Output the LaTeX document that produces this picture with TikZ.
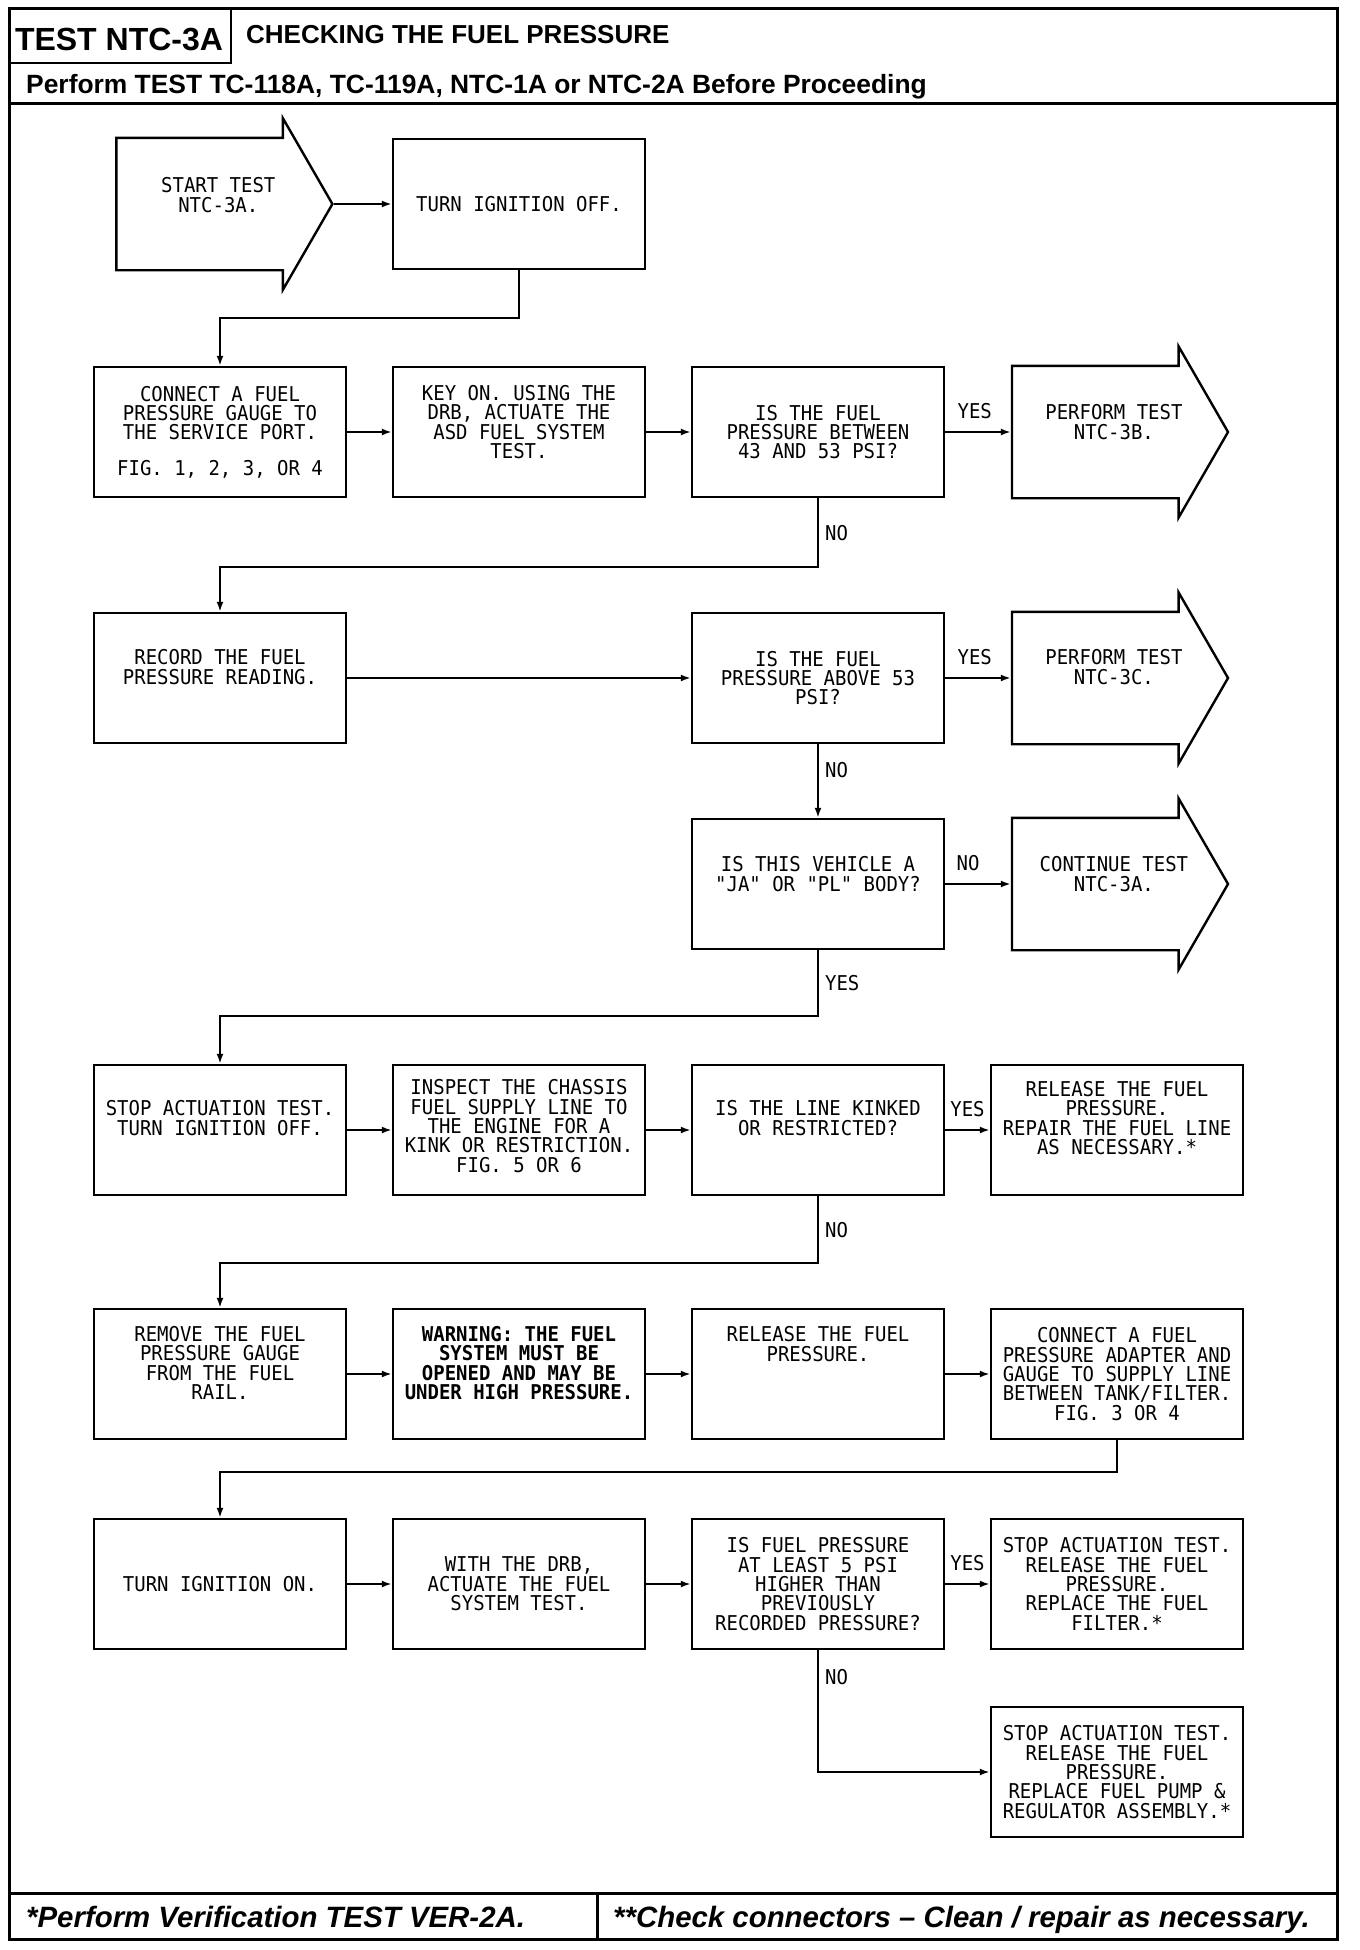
\documentclass[tikz,border=0pt]{standalone}
\usepackage{fontspec}
\setmainfont{Liberation Sans}
\newfontfamily\plotfont[FakeStretch=0.93]{DejaVu Sans Mono}
\usetikzlibrary{arrows.meta,positioning,shapes.arrows}

\begin{document}
\begin{tikzpicture}[node distance=22.3pt, line width=1.2pt,
  font=\plotfont\fontsize{10.2}{9.7}\selectfont,
  box/.style={draw, align=center, minimum width=126pt, minimum height=65pt, inner sep=0pt},
  goto/.style={draw, single arrow, single arrow head extend=9.75pt, single arrow tip angle=120,
    minimum width=84.5pt, minimum height=108pt, text height=32.5pt, text depth=32.5pt, inner sep=0pt},
  txt/.style={align=center, inner sep=0pt},
  lifted/.style 2 args={label={[txt, yshift=#1]center:{#2}}},
  gototext/.style 2 args={label={[txt, xshift=6.5pt, yshift=#1]center:{#2}}},
  arr/.style={-{Latex[length=5pt,width=3.5pt]}, line width=1.1pt},
  lbl/.style={inner sep=3pt}]

\useasboundingbox (0,0) rectangle (680pt,-975pt);

% frame and headings
\draw[line width=1.5pt] (4.5pt,-4pt) rectangle (668.5pt,-969.5pt);
\draw (4.5pt,-4pt) rectangle (115.5pt,-31.5pt);
\draw[line width=1.5pt] (4.5pt,-51.5pt) -- (668.5pt,-51.5pt);
\draw[line width=1.5pt] (4.5pt,-946.5pt) -- (668.5pt,-946.5pt);
\draw[line width=1.5pt] (298.5pt,-946.5pt) -- (298.5pt,-969.5pt);

\node (testid) [anchor=base, font=\bfseries\fontsize{16}{16}\selectfont] at (59.5pt,-25pt) {TEST NTC-3A};
\node (heading) [anchor=base west, inner sep=0pt, font=\bfseries\fontsize{13}{13}\selectfont] at (122.5pt,-21.5pt) {CHECKING THE FUEL PRESSURE};
\node (prereq) [anchor=base west, inner sep=0pt, font=\bfseries\fontsize{13.2}{13.2}\selectfont] at (12.5pt,-46.5pt) {Perform TEST TC-118A, TC-119A, NTC-1A or NTC-2A Before Proceeding};
\node (verify) [anchor=base west, inner sep=0pt, font=\bfseries\itshape\fontsize{14.7}{14.7}\selectfont] at (12.5pt,-963.5pt) {*Perform Verification TEST VER-2A.};
\node (clean) [anchor=base west, inner sep=0pt, font=\bfseries\itshape\fontsize{14.7}{14.7}\selectfont] at (306pt,-963.5pt) {**Check connectors -- Clean / repair as necessary.};

% flow
\node (turnoff) [box] at (259.5pt,-102pt) {TURN IGNITION OFF.};
\node (start) [goto, left=29pt of turnoff, gototext={4.5pt}{START TEST\\NTC-3A.}] {};

\node (keyon) [box, below=47.8pt of turnoff, lifted={5pt}{KEY ON. USING THE\\DRB, ACTUATE THE\\ASD FUEL SYSTEM\\TEST.}] {};
\node (connect) [box, left=of keyon] {CONNECT A FUEL\\PRESSURE GAUGE TO\\THE SERVICE PORT.\\[8pt]FIG. 1, 2, 3, OR 4};
\node (between) [box, right=of keyon] {IS THE FUEL\\PRESSURE BETWEEN\\43 AND 53 PSI?};
\node (perf3b) [goto, right=32.8pt of between, gototext={5pt}{PERFORM TEST\\NTC-3B.}] {};

\node (record) [box, below=56.8pt of connect, lifted={5.5pt}{RECORD THE FUEL\\PRESSURE READING.}] {};
\node (above53) [box, below=56.8pt of between] {IS THE FUEL\\PRESSURE ABOVE 53\\PSI?};
\node (perf3c) [goto, right=32.8pt of above53, gototext={5.5pt}{PERFORM TEST\\NTC-3C.}] {};

\node (ja) [box, below=36.8pt of above53, lifted={5pt}{IS THIS VEHICLE A\\"JA" OR "PL" BODY?}] {};
\node (cont3a) [goto, right=32.8pt of ja, gototext={5pt}{CONTINUE TEST\\NTC-3A.}] {};

\node (kinked) [box, below=56.8pt of ja, lifted={6pt}{IS THE LINE KINKED\\OR RESTRICTED?}] {};
\node (inspect) [box, left=of kinked, lifted={2pt}{INSPECT THE CHASSIS\\FUEL SUPPLY LINE TO\\THE ENGINE FOR A\\KINK OR RESTRICTION.\\FIG. 5 OR 6}] {};
\node (stop1) [box, left=of inspect, lifted={6pt}{STOP ACTUATION TEST.\\TURN IGNITION OFF.}] {};
\node (repair) [box, right=of kinked, lifted={6pt}{RELEASE THE FUEL\\PRESSURE.\\REPAIR THE FUEL LINE\\AS NECESSARY.*}] {};

\node (relfuel) [box, below=55.8pt of kinked, lifted={15pt}{RELEASE THE FUEL\\PRESSURE.}] {};
\node (warning) [box, left=of relfuel, label={[txt, yshift=5.5pt, font=\plotfont\bfseries\fontsize{10.2}{9.7}\selectfont]center:{WARNING: THE FUEL\\SYSTEM MUST BE\\OPENED AND MAY BE\\UNDER HIGH PRESSURE.}}] {};
\node (remove) [box, left=of warning, lifted={5.5pt}{REMOVE THE FUEL\\PRESSURE GAUGE\\FROM THE FUEL\\RAIL.}] {};
\node (adapter) [box, right=of relfuel] {CONNECT A FUEL\\PRESSURE ADAPTER AND\\GAUGE TO SUPPLY LINE\\BETWEEN TANK/FILTER.\\FIG. 3 OR 4};

\node (atleast) [box, below=38.8pt of relfuel] {IS FUEL PRESSURE\\AT LEAST 5 PSI\\HIGHER THAN\\PREVIOUSLY\\RECORDED PRESSURE?};
\node (drb) [box, left=of atleast] {WITH THE DRB,\\ACTUATE THE FUEL\\SYSTEM TEST.};
\node (turnon) [box, left=of drb] {TURN IGNITION ON.};
\node (filter) [box, right=of atleast] {STOP ACTUATION TEST.\\RELEASE THE FUEL\\PRESSURE.\\REPLACE THE FUEL\\FILTER.*};
\node (pump) [box, below=27.8pt of filter] {STOP ACTUATION TEST.\\RELEASE THE FUEL\\PRESSURE.\\REPLACE FUEL PUMP \&\\REGULATOR ASSEMBLY.*};

% connectors
\draw[arr] (start) -- (turnoff);
\draw[arr] (turnoff.south) -- ++(0,-24pt) -| (connect.north);
\draw[arr] (connect) -- (keyon);
\draw[arr] (keyon) -- (between);
\draw[arr] (between) -- node[lbl, above=3pt, pos=0.45] {YES} (perf3b);
\draw[arr] (between.south) -- node[lbl, right] {NO} ++(0,-34.5pt) -| (record.north);
\draw[arr] (record) -- (above53);
\draw[arr] (above53) -- node[lbl, above=3pt, pos=0.45] {YES} (perf3c);
\draw[arr] (above53) -- node[lbl, right, pos=0.35] {NO} (ja);
\draw[arr] (ja) -- node[lbl, above=3pt, pos=0.35] {NO} (cont3a);
\draw[arr] (ja.south) -- node[lbl, right] {YES} ++(0,-33pt) -| (stop1.north);
\draw[arr] (stop1) -- (inspect);
\draw[arr] (inspect) -- (kinked);
\draw[arr] (kinked) -- node[lbl, above=3pt] {YES} (repair);
\draw[arr] (kinked.south) -- node[lbl, right] {NO} ++(0,-33.5pt) -| (remove.north);
\draw[arr] (remove) -- (warning);
\draw[arr] (warning) -- (relfuel);
\draw[arr] (relfuel) -- (adapter);
\draw[arr] (adapter.south) -- ++(0,-16pt) -| (turnon.north);
\draw[arr] (turnon) -- (drb);
\draw[arr] (drb) -- (atleast);
\draw[arr] (atleast) -- node[lbl, above=3pt] {YES} (filter);
\draw[arr] (atleast.south) |- node[lbl, right, pos=0.11] {NO} (pump.west);

\end{tikzpicture}
\end{document}
